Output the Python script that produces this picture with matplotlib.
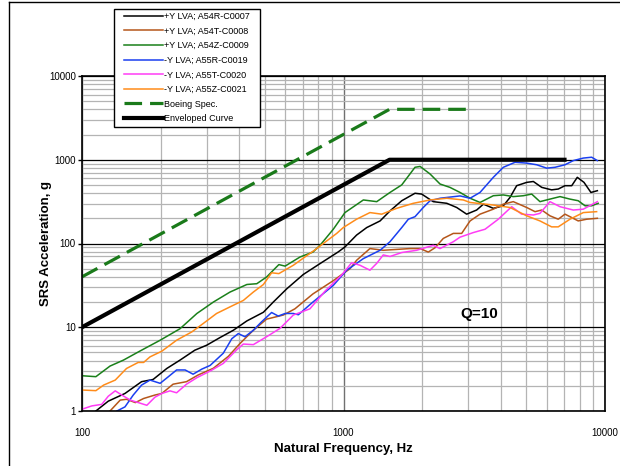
import matplotlib
matplotlib.use('Agg')
import matplotlib.pyplot as plt
from matplotlib.lines import Line2D
from matplotlib.patches import Rectangle

plt.rcParams['font.family'] = ['Liberation Sans', 'DejaVu Sans']

# shock response spectra, natural frequency (Hz) vs peak acceleration (g)
a54r_freq = [113, 126, 146, 169, 187, 211, 237, 270, 300, 337, 379, 427, 494, 539, 607,
             702, 813, 955, 1013, 1122, 1227, 1380, 1506, 1670, 1877, 1991, 2204, 2483,
             2710, 2958, 3230, 3428, 3741, 4085, 4333, 4594, 5020, 5321, 5728, 6250,
             6625, 7030, 7460, 7835, 8310, 8835, 9350]
a54r_g = [1.0, 1.31, 1.62, 2.24, 2.38, 3.22, 4.05, 5.32, 6.11, 7.53, 9.2, 11.9, 15.1, 20,
          28.8, 42.7, 57.5, 79.4, 91, 126, 155, 186, 245, 324, 398, 389, 316, 302, 269,
          224, 251, 295, 263, 282, 355, 490, 537, 550, 468, 437, 447, 490, 490, 617,
          537, 407, 427]

a54t_freq = [128, 140, 148, 160, 172, 190, 202, 223, 251, 278, 318, 363, 402, 452, 508,
             589, 652, 764, 914, 1059, 1122, 1262, 1419, 1597, 1795, 1963, 2110, 2239,
             2408, 2630, 2831, 3048, 3327, 3741, 4085, 4460, 5020, 5400, 5728, 6160,
             6625, 7030, 7460, 7900, 8510, 9350]
a54t_g = [1.0, 1.35, 1.38, 1.26, 1.41, 1.55, 1.62, 2.09, 2.24, 2.69, 3.24, 4.5, 6.4, 9.2,
          12.5, 14, 16.6, 25, 36, 50, 63, 87, 83, 85, 87, 87, 79, 89, 115, 132, 132, 186,
          224, 257, 295, 316, 269, 240, 251, 214, 195, 224, 204, 186, 195, 200]

a54z_freq = [101, 113, 128, 144, 167, 199, 237, 275, 318, 368, 427, 466, 508, 566, 598,
             682, 764, 813, 914, 1013, 1191, 1340, 1506, 1670, 1877, 1963, 2143, 2340,
             2553, 2790, 3048, 3327, 3741, 4085, 4460, 4874, 5245, 5640, 6160, 6730,
             7345, 7900, 8390, 8890, 9420]
a54z_g = [2.63, 2.57, 3.44, 4.05, 5.22, 7.0, 9.6, 14.6, 20, 26.3, 32.4, 33.1, 39.8, 56,
          53.7, 69, 79, 95, 148, 234, 331, 316, 407, 501, 813, 832, 676, 513, 468, 407,
          347, 309, 372, 380, 363, 372, 389, 316, 339, 363, 339, 324, 282, 282, 302]

a55r_freq = [136, 146, 157, 169, 182, 199, 214, 230, 248, 266, 287, 309, 347, 374, 396,
             420, 452, 486, 531, 563, 598, 643, 672, 764, 914, 1028, 1191, 1380, 1506,
             1670, 1770, 1877, 2018, 2143, 2340, 2790, 3048, 3327, 3741, 4085, 4530,
             5020, 5480, 5985, 6440, 7030, 7565, 8260, 8890, 9350]
a55r_g = [1.0, 1.12, 1.55, 2.04, 2.34, 2.14, 2.57, 3.09, 3.09, 2.75, 3.16, 3.5, 4.9, 7.3,
          8.4, 7.7, 9.2, 11.6, 15, 13.6, 14.6, 14.6, 14.1, 20, 31.6, 47.9, 66, 83, 105,
          155, 195, 209, 269, 324, 347, 370, 347, 407, 617, 813, 933, 912, 871, 794, 813,
          871, 977, 1047, 1072, 977]

a55t_freq = [100, 109, 119, 126, 134, 142, 153, 177, 190, 202, 217, 230, 251, 275, 309,
             347, 391, 414, 452, 508, 572, 643, 744, 850, 984, 1075, 1156, 1262, 1340,
             1419, 1506, 1670, 1905, 2050, 2204, 2340, 2630, 2790, 3135, 3478, 3908,
             4397, 4800, 5321, 5640, 6160, 6730, 7565, 8260, 9350]
a55t_g = [1.05, 1.15, 1.2, 1.5, 1.74, 1.55, 1.35, 1.17, 1.46, 1.62, 1.74, 1.65, 2.09,
          2.5, 3.0, 3.7, 5.4, 6.3, 6.2, 7.7, 9.7, 14, 16.6, 27, 42, 59, 55, 48, 58, 73,
          70, 78, 83, 89, 95, 87, 105, 119, 135, 148, 195, 275, 224, 219, 229, 316, 275,
          251, 257, 316]

a55z_freq = [100, 113, 121, 134, 148, 164, 172, 182, 202, 230, 263, 291, 327, 368, 414,
             452, 494, 531, 566, 643, 790, 837, 942, 998, 1122, 1262, 1400, 1597, 1849,
             2143, 2483, 2871, 3048, 3741, 4333, 5020, 5640, 6250, 6625, 7345, 8260, 9290]
a55z_g = [1.78, 1.75, 2.04, 2.34, 3.22, 3.8, 3.8, 4.43, 5.18, 7.0, 8.8, 11.1, 14.6, 17.5,
          20.9, 26.3, 32.4, 44.7, 43.7, 55, 87, 100, 132, 155, 195, 234, 224, 263, 302,
          331, 347, 331, 309, 288, 269, 214, 186, 158, 158, 195, 234, 240]

spec_freq = [100, 1500, 3000]
spec_g = [40, 4000, 4000]

env_freq = [100, 1500, 7000]
env_g = [10, 1000, 1000]

series = [
    ('+Y LVA; A54R-C0007', a54r_freq, a54r_g, '#000000'),
    ('+Y LVA; A54T-C0008', a54t_freq, a54t_g, '#b5561a'),
    ('+Y LVA; A54Z-C0009', a54z_freq, a54z_g, '#1a801a'),
    ('-Y LVA; A55R-C0019', a55r_freq, a55r_g, '#1a3ff0'),
    ('-Y LVA; A55T-C0020', a55t_freq, a55t_g, '#ff3cf5'),
    ('-Y LVA; A55Z-C0021', a55z_freq, a55z_g, '#ff8c1a'),
]

x_ticks = [100, 1000, 10000]
y_ticks = [1, 10, 100, 1000, 10000]

W, H = 620, 466
fig = plt.figure(figsize=(W / 100, H / 100), dpi=100)
ax = fig.add_axes([82 / W, 1 - 411 / H, (605 - 82) / W, (411 - 76) / H])

for label, f, g, color in series:
    ax.plot(f, g, color=color, lw=1.1, label=label)
ax.plot(spec_freq, spec_g, color='#1a7a1a', lw=2.3, dashes=(5.5, 2.5),
        label='Boeing Spec.')
ax.plot(env_freq, env_g, color='black', lw=3.0, label='Enveloped Curve')

ax.set_xscale('log')
ax.set_yscale('log')
ax.set_xlim(100, 10000)
ax.set_ylim(1, 10000)

ax.set_xticks(x_ticks)
ax.set_xticklabels([str(t) for t in x_ticks])
ax.set_yticks(y_ticks)
ax.set_yticklabels([str(t) for t in y_ticks])
ax.tick_params(axis='x', which='both', length=0, pad=12, labelsize=7)
ax.tick_params(axis='y', which='major', length=3, width=1, pad=1.5, labelsize=7)
ax.tick_params(axis='y', which='minor', length=0)

ax.grid(True, which='minor', axis='both', color='#b4b4b4', lw=0.9)
ax.grid(True, which='major', axis='x', color='#707070', lw=1.0)
ax.grid(True, which='major', axis='y', color='black', lw=0.9)
ax.set_axisbelow(True)
for sp in ax.spines.values():
    sp.set_linewidth(1.2)

ax.set_xlabel('Natural Frequency, Hz', fontsize=9.5, fontweight='bold', labelpad=4)
ax.set_ylabel('SRS Acceleration, g', fontsize=9.5, fontweight='bold', labelpad=-2)

ax.text(3300, 14.3, 'Q=10', fontsize=11, fontweight='bold', ha='center', va='center')

# legend frame drawn separately so the side padding can be wider than the top
fig.add_artist(Rectangle((114 / W, 1 - 127 / H), (260 - 114) / W, (127 - 9) / H,
                         transform=fig.transFigure, facecolor='white',
                         edgecolor='black', lw=1.0, zorder=5))
handles, labels = ax.get_legend_handles_labels()
leg = fig.legend(handles, labels, loc='upper left', bbox_to_anchor=(124 / W, 1 - 12 / H),
                 bbox_transform=fig.transFigure, fontsize=6.5, frameon=False,
                 borderpad=0, handlelength=4.3, handletextpad=0.15,
                 labelspacing=0.62, borderaxespad=0)
leg.set_zorder(6)

# page border
fig.add_artist(Line2D([9 / W, 9 / W], [0, 1 - 2 / H], transform=fig.transFigure,
                      color='black', lw=1))
fig.add_artist(Line2D([9 / W, 1], [1 - 2 / H, 1 - 2 / H], transform=fig.transFigure,
                      color='black', lw=1))

fig.savefig('out.png', dpi=100)
